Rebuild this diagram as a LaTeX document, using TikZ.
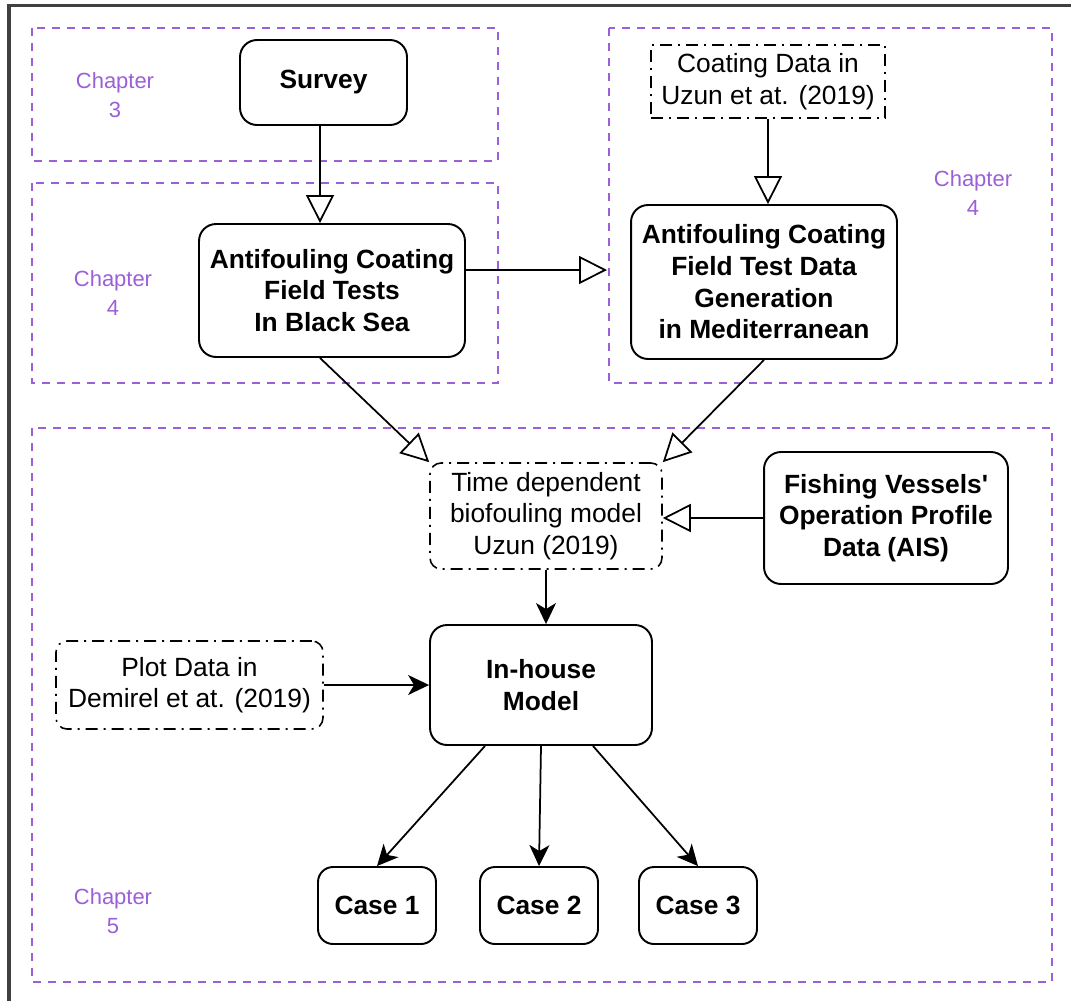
\documentclass[tikz,border=0pt]{standalone}
\usepackage{fontspec}
\setmainfont{Liberation Sans}
\newfontfamily\straightq{Liberation Sans}
\usepackage{xcolor}
\usetikzlibrary{arrows.meta,positioning}
\definecolor{chappurple}{RGB}{155,95,215}

\begin{document}
\begin{tikzpicture}[x=0.02cm, y=-0.02cm,
  every node/.style={font=\fontsize{15}{18}\selectfont, align=center},
  mainbox/.style={draw, line width=1.1pt, rounded corners=0.34cm, font=\fontsize{15}{18}\selectfont\bfseries, inner sep=2pt},
  databox/.style={draw, line width=0.9pt, dash pattern=on 0.24cm off 0.12cm on 0.04cm off 0.12cm, inner sep=2pt},
  chapframe/.style={draw=chappurple, line width=1.1pt, dash pattern=on 0.16cm off 0.14cm},
  chaplabel/.style={text=chappurple, font=\fontsize{12.5}{16.5}\selectfont},
  hollowarr/.style={line width=1pt, -{Triangle[open, length=0.56cm, width=0.56cm, fill=white]}},
  solidarr/.style={line width=1pt, -{Stealth[length=0.42cm, width=0.4cm, inset=0.12cm]}}]
\useasboundingbox (0,0) rectangle (1071,1001);
% outer frame
\draw[black!75, line width=2pt] (9,1001) -- (9,5.5) -- (1071,5.5);
% chapter frames
\draw[chapframe] (32,28) rectangle (498,161);
\draw[chapframe] (32,183) rectangle (498,383);
\draw[chapframe] (609,28) rectangle (1052,383);
\draw[chapframe] (32,428) rectangle (1052,982);
\node[chaplabel] (ch3) at (115,95) {Chapter\\3};
\node[chaplabel] (ch4a) at (113,293) {Chapter\\4};
\node[chaplabel] (ch4b) at (973,193) {Chapter\\4};
\node[chaplabel] (ch5) at (113,911) {Chapter\\5};

% nodes
\node[mainbox, minimum width=3.34cm, minimum height=1.70cm] (survey) at (323.5,82.5) {Survey};
\node[databox, minimum width=4.68cm, minimum height=1.46cm] (coat) at (768,81.5) {Coating Data in\\Uzun et at. (2019)};
\node[mainbox, minimum width=5.32cm, minimum height=2.66cm] (bs) at (332,290.5) {Antifouling Coating\\Field Tests\\In Black Sea};
\node[mainbox, minimum width=5.32cm, minimum height=3.08cm] (med) at (764,282) {Antifouling Coating\\Field Test Data\\Generation\\in Mediterranean};
\coordinate (gen) at (607,270);
\node[databox, rounded corners=0.22cm, minimum width=4.64cm, minimum height=2.12cm] (td) at (546,516) {Time dependent\\biofouling model\\Uzun (2019)};
\node[mainbox, minimum width=4.88cm, minimum height=2.64cm] (fish) at (886,518) {Fishing Vessels{\straightq\bfseries '}\\Operation Profile\\Data (AIS)};
\node[databox, rounded corners=0.22cm, minimum width=5.34cm, minimum height=1.76cm] (plot) at (189.5,685) {Plot Data in\\Demirel et at. (2019)};
\node[mainbox, minimum width=4.44cm, minimum height=2.40cm] (ih) at (541,685) {In-house\\Model};
\foreach \k/\x in {1/377,2/539,3/698}
  \node[mainbox, rounded corners=0.3cm, minimum width=2.36cm, minimum height=1.54cm] (case\k) at (\x,905.5) {Case \k};

% connectors
\draw[hollowarr] ([xshift=-0.07cm]survey.south) -- ([xshift=-0.07cm]survey.south |- bs.north);
\draw[hollowarr] (coat.south) -- (coat.south |- med.north);
\draw[hollowarr] (bs.east |- gen) -- (gen);
\draw[hollowarr] ([xshift=-0.24cm]bs.south) -- (td.north west);
\draw[hollowarr] (med.south) -- (td.north east);
\draw[hollowarr] (fish.west) -- (fish.west -| td.east);
\draw[solidarr] (td.south) -- (td.south |- ih.north);
\draw[solidarr] (plot.east) -- (ih.west);
\foreach \k/\dx in {1/-1.12cm,2/0cm,3/1.04cm}
  \draw[solidarr] ([xshift=\dx]ih.south) -- (case\k.north);
\end{tikzpicture}
\end{document}
